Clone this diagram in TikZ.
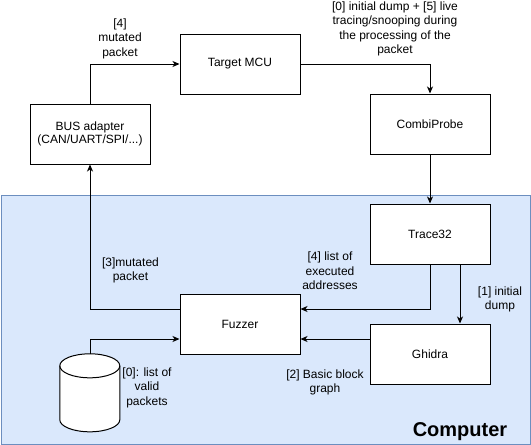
\documentclass[tikz,border=0pt]{standalone}
\usepackage{fontspec}
\setmainfont{Liberation Sans}
\usetikzlibrary{arrows.meta,calc}
\definecolor{compfill}{HTML}{DAE8FC}
\definecolor{compline}{HTML}{6C8EBF}
\begin{document}
\begin{tikzpicture}[x=1pt,y=-1pt,
  every node/.style={font=\fontsize{12}{14.4}\selectfont},
  box/.style={draw,line width=1pt,fill=white,minimum width=120pt,minimum height=60pt,inner sep=0pt},
  lbl/.style={align=center,inner sep=0pt},
  conn/.style={line width=1pt,-{Stealth[length=7pt,width=6pt,inset=2pt]}},
  plain/.style={line width=1pt}]
\useasboundingbox (0,0) rectangle (531,445);
\node[draw=compline,fill=compfill,line width=1pt,minimum width=529.5pt,minimum height=249.5pt,inner sep=0pt,anchor=north west] (computer) at (0.5,194.5) {};
\node[font=\fontsize{20}{24}\selectfont\bfseries,inner sep=0pt] (complbl) at (460,432) {Computer};

\node[box] (mcu) at (240,64) {Target MCU};
\node[box] (bus) at (90,134) {\begin{tabular}{@{}c@{}}BUS adapter\\[-1.2pt](CAN/UART/SPI/...)\end{tabular}};
\node[box] (combi) at (430,124) {CombiProbe};
\node[box] (trace) at (430,234) {Trace32};
\node[box] (fuzzer) at (240,324) {Fuzzer};
\node[box] (ghidra) at (430,354) {Ghidra};
\node[minimum width=60pt,minimum height=78pt,inner sep=0pt] (db) at (90,393) {};
\draw[line width=1pt,fill=white] (db.north west) ++(0,12) -- ++(0,54) arc[start angle=180,end angle=0,x radius=30,y radius=12] -- ++(0,-54) arc[start angle=0,end angle=-180,x radius=30,y radius=12] -- cycle;
\draw[line width=1pt] (db.north west) ++(0,12) arc[start angle=180,end angle=0,x radius=30,y radius=12];

\draw[conn] (bus.north) |- (mcu.west);
\draw[conn] (mcu.east) -| (combi.north);
\draw[conn] (combi.south) -- (trace.north);
\draw[conn] ($(trace.south)+(30,0)$) -- ($(ghidra.north)+(30,0)$);
\draw[conn] (trace.south) |- ($(fuzzer.east)+(0,-15)$);
\draw[conn] ($(ghidra.west)+(0,-15)$) -- ($(fuzzer.east)+(0,15)$);
\draw[conn] ($(fuzzer.west)+(0,-15)$) -| (bus.south);
\draw[conn] (db.north) |- ($(fuzzer.west)+(0,15)$);

\node[lbl] (l4a) at (120,38.8) {[4]\\mutated\\packet};
\node[lbl] (l0a) at (395,29) {[0] initial dump + [5] live\\tracing/snooping during\\the processing of the\\packet};
\node[lbl] (l1) at (500,299.5) {[1] initial\\dump};
\node[lbl] (l4b) at (330,271) {[4] list of\\executed\\addresses};
\node[lbl] (l2) at (325,382.5) {[2] Basic block\\graph};
\node[lbl] (l3) at (130.5,270.5) {[3]mutated\\packet};
\node[lbl] (l0b) at (147,387.5) {[0]: list of\\valid\\packets};
\end{tikzpicture}
\end{document}
